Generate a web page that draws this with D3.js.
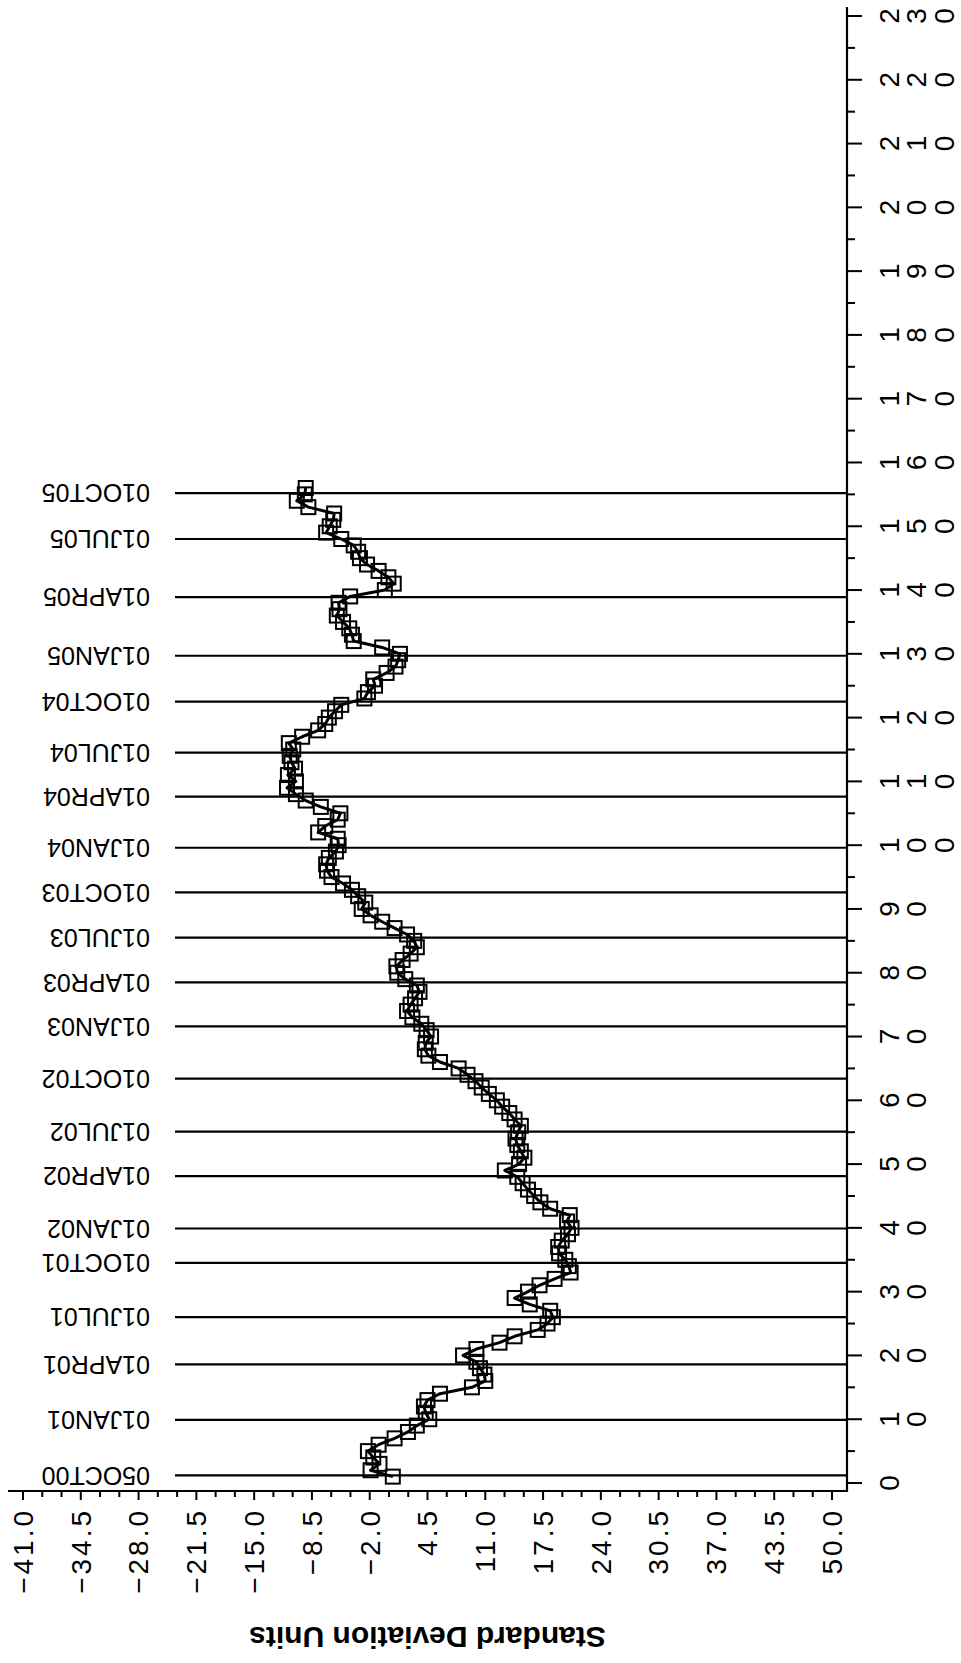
<!DOCTYPE html>
<html>
<head>
<meta charset="utf-8">
<script src="https://cdn.jsdelivr.net/npm/d3@7"></script>
<style>
  html, body { margin: 0; padding: 0; background: #fff; }
  svg { display: block; }
  text { font-family: "Liberation Sans", Arial, sans-serif; fill: #000; }
</style>
</head>
<body>
<svg id="chart" width="961" height="1663"></svg>
<script>
// ---- data ----
const refDates = ["05OCT00","01JAN01","01APR01","01JUL01","01OCT01","01JAN02","01APR02","01JUL02","01OCT02","01JAN03","01APR03","01JUL03","01OCT03","01JAN04","01APR04","01JUL04","01OCT04","01JAN05","01APR05","01JUL05","01OCT05"];
const refPos = [1.2, 9.9, 18.6, 26.0, 34.5, 39.9, 48.1, 55.1, 63.4, 71.6, 78.5, 85.5, 92.6, 99.6, 107.6, 114.5, 122.5, 129.7, 138.9, 148.0, 155.2];

// standard deviation units, observation 1..156
const sdValues = [
  0.6, -1.9, -0.9, -1.6, -2.2, -1.0, 0.8, 2.3, 3.3, 4.7,
  4.3, 4.1, 4.5, 5.9, 9.5, 11.0, 10.9, 10.4, 10.0, 8.5,
  10.0, 12.6, 14.3, 16.9, 18.0, 18.6, 18.3, 16.0, 14.3, 15.8,
  17.1, 18.8, 20.6, 20.4, 20.0, 19.3, 19.2, 19.6, 20.3, 20.7,
  20.2, 20.5, 18.3, 17.2, 16.5, 15.8, 15.2, 14.6, 13.2, 14.8,
  15.4, 15.0, 14.6, 14.4, 14.7, 15.0, 14.3, 13.7, 12.9, 12.3,
  11.4, 10.6, 9.9, 9.0, 8.0, 5.9, 4.6, 4.2, 4.3, 4.9,
  4.4, 3.8, 2.8, 2.2, 2.6, 3.1, 3.6, 3.3, 2.0, 1.1,
  1.0, 1.7, 2.6, 3.3, 3.0, 2.2, 0.8, -0.6, -1.9, -2.9,
  -2.5, -3.3, -4.0, -5.0, -6.3, -6.8, -6.9, -6.6, -5.8, -5.5,
  -5.6, -7.8, -7.0, -5.6, -5.3, -7.5, -9.2, -10.3, -11.3, -10.3,
  -11.2, -10.4, -10.8, -11.0, -10.6, -11.1, -9.6, -7.8, -7.0, -6.6,
  -5.9, -5.2, -2.6, -2.2, -1.4, -1.6, -0.1, 0.9, 1.2, 1.4,
  -0.6, -3.8, -4.0, -4.3, -5.0, -5.7, -5.4, -5.5, -4.2, -0.3,
  0.7, 0.1, -1.0, -2.3, -3.1, -3.3, -3.8, -5.2, -6.9, -6.5,
  -6.1, -6.0, -8.9, -10.2, -9.3, -9.2
];

const sdTicks = [-41.0, -34.5, -28.0, -21.5, -15.0, -8.5, -2.0, 4.5, 11.0, 17.5, 24.0, 30.5, 37.0, 43.5, 50.0];
const obsTicks = [0, 10, 20, 30, 40, 50, 60, 70, 80, 90, 100, 110, 120, 130, 140, 150, 160, 170, 180, 190, 200, 210, 220, 230];
const axisTitle = "Standard Deviation Units";

// ---- layout ----
const svg = d3.select("#chart");
const x = d3.scaleLinear().domain([-41, 50]).range([23, 832]);
const y = d3.scaleLinear().domain([0, 230]).range([1483, 16]);
const axisY = 1491, axisX = 847;

// minor ticks (thirds on SD axis, halves on obs axis)
const sdMinor = [];
for (let i = 0; i < sdTicks.length - 1; i++) {
  const a = sdTicks[i], b = sdTicks[i + 1];
  sdMinor.push(a + (b - a) / 3, a + 2 * (b - a) / 3);
}
const obsMinor = [];
for (let i = 0; i < obsTicks.length - 1; i++) obsMinor.push((obsTicks[i] + obsTicks[i + 1]) / 2);

// reference lines
svg.append("g").selectAll("line").data(refPos).join("line")
  .attr("x1", 175).attr("x2", axisX)
  .attr("y1", d => y(d)).attr("y2", d => y(d))
  .attr("stroke", "#000").attr("stroke-width", 2.2);

svg.append("g").selectAll("text").data(refDates).join("text")
  .attr("transform", (d, i) => `translate(150,${y(refPos[i])}) rotate(180)`)
  .attr("dy", "0.35em")
  .attr("text-anchor", "start")
  .style("font-size", "25px")
  .text(d => d);

// axes lines
svg.append("line").attr("x1", 8).attr("x2", axisX + 1).attr("y1", axisY).attr("y2", axisY)
  .attr("stroke", "#000").attr("stroke-width", 2.2);
svg.append("line").attr("x1", axisX).attr("x2", axisX).attr("y1", 7).attr("y2", axisY + 1)
  .attr("stroke", "#000").attr("stroke-width", 2.2);

// SD axis ticks
svg.append("g").selectAll("line").data(sdTicks).join("line")
  .attr("x1", d => x(d)).attr("x2", d => x(d))
  .attr("y1", axisY).attr("y2", axisY + 9)
  .attr("stroke", "#000").attr("stroke-width", 2);
svg.append("g").selectAll("line").data(sdMinor).join("line")
  .attr("x1", d => x(d)).attr("x2", d => x(d))
  .attr("y1", axisY).attr("y2", axisY + 6)
  .attr("stroke", "#000").attr("stroke-width", 2);
const fmt = d3.format(".1f");
svg.append("g").selectAll("text").data(sdTicks).join("text")
  .attr("transform", d => `translate(${x(d)},1508) rotate(-90)`)
  .attr("dy", "0.35em")
  .attr("text-anchor", "end")
  .style("font-size", "28px")
  .style("letter-spacing", "3px")
  .text(d => fmt(d));

// obs axis ticks
svg.append("g").selectAll("line").data(obsTicks).join("line")
  .attr("x1", axisX).attr("x2", axisX + 15)
  .attr("y1", d => y(d)).attr("y2", d => y(d))
  .attr("stroke", "#000").attr("stroke-width", 2);
svg.append("g").selectAll("line").data(obsMinor).join("line")
  .attr("x1", axisX).attr("x2", axisX + 8)
  .attr("y1", d => y(d)).attr("y2", d => y(d))
  .attr("stroke", "#000").attr("stroke-width", 2);
const obsLab = svg.append("g");
obsTicks.forEach(t => {
  String(t).split("").forEach((ch, k) => {
    obsLab.append("text")
      .attr("transform", `translate(${889 + k * 27.5},${y(t)}) rotate(-90)`)
      .attr("dy", "0.35em")
      .attr("text-anchor", "middle")
      .style("font-size", "28px")
      .text(ch);
  });
});

// title
svg.append("text")
  .attr("transform", `translate(${(x(-41) + x(50)) / 2},1627) rotate(180)`)
  .attr("text-anchor", "middle")
  .style("font-size", "30px")
  .style("font-weight", "bold")
  .text(axisTitle);

// series
const pts = sdValues.map((v, i) => ({ obs: i + 1, v }));
const line = d3.line().x(d => x(d.v)).y(d => y(d.obs));
svg.append("path").datum(pts)
  .attr("d", line).attr("fill", "none")
  .attr("stroke", "#000").attr("stroke-width", 3).attr("stroke-linejoin", "round");
const s = 14;
svg.append("g").selectAll("rect").data(pts).join("rect")
  .attr("x", d => x(d.v) - s / 2).attr("y", d => y(d.obs) - s / 2)
  .attr("width", s).attr("height", s)
  .attr("fill", "none").attr("stroke", "#000").attr("stroke-width", 2);
</script>
</body>
</html>
